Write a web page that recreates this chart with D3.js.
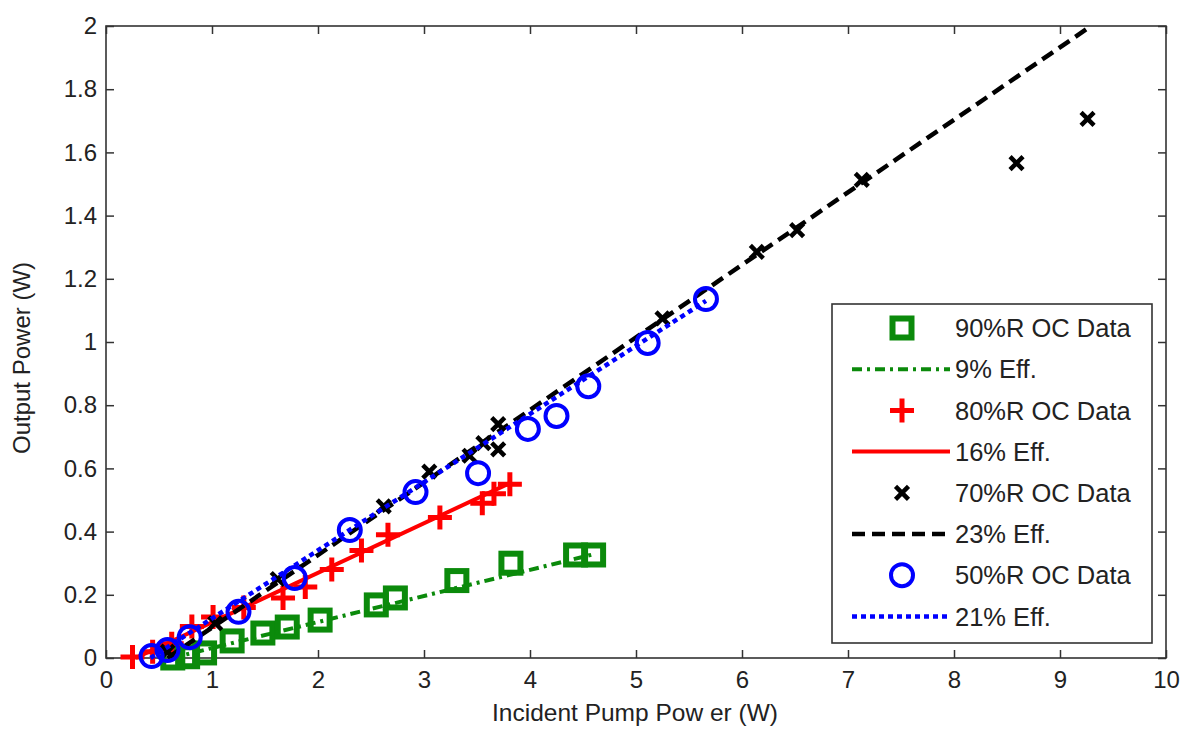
<!DOCTYPE html>
<html>
<head>
<meta charset="utf-8">
<script src="https://cdn.jsdelivr.net/npm/d3@7"></script>
<style>
  html, body { margin: 0; padding: 0; background: #fff; }
  svg { display: block; }
  text { font-family: "Liberation Sans", Arial, sans-serif; fill: #222; }
</style>
</head>
<body>
<svg id="chart" width="1189" height="730"></svg>
<script>
// ---- data ----
const xTicks = [0, 1, 2, 3, 4, 5, 6, 7, 8, 9, 10];
const yTicks = [0, 0.2, 0.4, 0.6, 0.8, 1, 1.2, 1.4, 1.6, 1.8, 2];
const yTickLabels = ["0", "0.2", "0.4", "0.6", "0.8", "1", "1.2", "1.4", "1.6", "1.8", "2"];

const oc90 = [[0.63,0.0],[0.77,0.004],[0.93,0.016],[1.19,0.054],[1.48,0.079],[1.71,0.098],[2.02,0.12],
              [2.55,0.168],[2.73,0.19],[3.31,0.245],[3.82,0.30],[4.43,0.326],[4.60,0.326]];
const fit90 = [[0.62,0.0],[4.62,0.33]];

const oc80 = [[0.25,0.003],[0.44,0.02],[0.62,0.045],[0.81,0.10],[1.01,0.13],[1.30,0.16],[1.67,0.19],[1.88,0.225],
              [2.13,0.28],[2.41,0.34],[2.66,0.39],[3.15,0.445],[3.55,0.49],[3.66,0.52],[3.81,0.55]];
const fit80 = [[0.28,0.0],[3.82,0.555]];

const oc70 = [[0.58,0.02],[1.03,0.11],[1.62,0.25],[2.62,0.48],[3.05,0.59],[3.43,0.64],[3.56,0.68],
              [3.70,0.74],[3.70,0.66],[5.25,1.075],[6.14,1.285],[6.52,1.354],[7.13,1.513],[8.59,1.566],[9.26,1.706]];
const fit70 = [[0.58,0.0],[9.25,1.99]];

const oc50 = [[0.43,0.006],[0.58,0.025],[0.79,0.066],[1.25,0.146],[1.78,0.253],[2.30,0.405],[2.92,0.525],
              [3.51,0.585],[3.98,0.725],[4.25,0.766],[4.55,0.86],[5.11,0.997],[5.66,1.136]];
const fit50 = [[0.42,0.0],[5.66,1.13]];

const legendLabels = ["90%R OC Data", "9% Eff.", "80%R OC Data", "16% Eff.", "70%R OC Data", "23% Eff.", "50%R OC Data", "21% Eff."];

// ---- layout ----
const W = 1189, H = 730;
const m = { left: 106, right: 23, top: 26, bottom: 72 };
const svg = d3.select("#chart");
const x = d3.scaleLinear().domain([0, 10]).range([m.left, W - m.right]);
const y = d3.scaleLinear().domain([0, 2]).range([H - m.bottom, m.top]);

const GREEN = "#0b8a0b", RED = "#ff0000", BLUE = "#0000ff", BLACK = "#000";
const AX = "#333";

// frame
svg.append("rect").attr("x", x(0)).attr("y", y(2)).attr("width", x(10) - x(0)).attr("height", y(0) - y(2))
  .attr("fill", "none").attr("stroke", AX).attr("stroke-width", 1.6);

// axes with inward ticks
const fs = 24;
const xAxis = svg.append("g").attr("transform", `translate(0,${y(0)})`)
  .call(d3.axisBottom(x).tickValues(xTicks).tickSizeInner(-8).tickSizeOuter(0).tickPadding(13).tickFormat(d3.format("d")));
const xAxisTop = svg.append("g").attr("transform", `translate(0,${y(2)})`)
  .call(d3.axisTop(x).tickValues(xTicks).tickSizeInner(-8).tickSizeOuter(0).tickFormat(""));
const yAxis = svg.append("g").attr("transform", `translate(${x(0)},0)`)
  .call(d3.axisLeft(y).tickValues(yTicks).tickSizeInner(-8).tickSizeOuter(0).tickPadding(9)
    .tickFormat((d, i) => yTickLabels[i]));
const yAxisR = svg.append("g").attr("transform", `translate(${x(10)},0)`)
  .call(d3.axisRight(y).tickValues(yTicks).tickSizeInner(-8).tickSizeOuter(0).tickFormat(""));
[xAxis, xAxisTop, yAxis, yAxisR].forEach(g => {
  g.select(".domain").remove();
  g.selectAll(".tick line").attr("stroke", AX).attr("stroke-width", 1.5);
  g.selectAll("text").style("font-family", "Liberation Sans, Arial, sans-serif").style("font-size", fs + "px").attr("fill", "#222");
});
xAxis.selectAll("text").attr("dy", "0.71em");

// axis titles
svg.append("text").attr("x", 635).attr("y", 721).attr("text-anchor", "middle")
  .style("font-size", "24.5px").text("Incident Pump Pow er (W)");
svg.append("text").attr("transform", `translate(30,${358}) rotate(-90)`).attr("text-anchor", "middle")
  .style("font-size", "24px").text("Output Power (W)");

// marker shapes
function squareM(g, c) {
  g.append("rect").attr("x", -9.5).attr("y", -9.5).attr("width", 19).attr("height", 19)
    .attr("fill", "none").attr("stroke", c).attr("stroke-width", 6);
}
function plusM(g, c) {
  g.append("path").attr("d", "M-12,0H12M0,-12V12").attr("stroke", c).attr("stroke-width", 5).attr("fill", "none");
}
function xM(g, c) {
  g.append("path").attr("d", "M-6.5,-6.5L6.5,6.5M-6.5,6.5L6.5,-6.5").attr("stroke", c).attr("stroke-width", 4.5).attr("fill", "none");
}
function circleM(g, c) {
  g.append("circle").attr("r", 11).attr("fill", "none").attr("stroke", c).attr("stroke-width", 4);
}

const line = d3.line().x(d => x(d[0])).y(d => y(d[1]));
const plotG = svg.append("g");

const series = [
  { data: oc90, fit: fit90, color: GREEN, marker: squareM, dash: "10,5,3,5", lw: 4 },
  { data: oc80, fit: fit80, color: RED, marker: plusM, dash: null, lw: 4 },
  { data: oc70, fit: fit70, color: BLACK, marker: xM, dash: "13,7", lw: 4.5 },
  { data: oc50, fit: fit50, color: BLUE, marker: circleM, dash: "5,4", lw: 4.5 }
];

series.forEach(s => {
  s.data.forEach(d => {
    const g = plotG.append("g").attr("transform", `translate(${x(d[0])},${y(d[1])})`);
    s.marker(g, s.color);
  });
  const p = plotG.append("path").datum(s.fit).attr("d", line).attr("fill", "none")
    .attr("stroke", s.color).attr("stroke-width", s.lw);
  if (s.dash) p.attr("stroke-dasharray", s.dash);
});

// legend
const lg = svg.append("g");
lg.append("rect").attr("x", 832).attr("y", 304).attr("width", 320).attr("height", 339)
  .attr("fill", "#fff").attr("stroke", AX).attr("stroke-width", 1.6);
const rowY0 = 328, rowDy = 41.2;
legendLabels.forEach((lab, i) => {
  const yy = rowY0 + i * rowDy;
  const s = series[Math.floor(i / 2)];
  if (i % 2 === 0) {
    const g = lg.append("g").attr("transform", `translate(902,${yy})`);
    s.marker(g, s.color);
  } else {
    const p = lg.append("line").attr("x1", 852).attr("x2", 950).attr("y1", yy).attr("y2", yy)
      .attr("stroke", s.color).attr("stroke-width", s.lw);
    if (s.dash) p.attr("stroke-dasharray", s.dash);
  }
  lg.append("text").attr("x", 955).attr("y", yy).attr("dy", "0.36em")
    .style("font-size", "25.5px").text(lab);
});
</script>
</body>
</html>
